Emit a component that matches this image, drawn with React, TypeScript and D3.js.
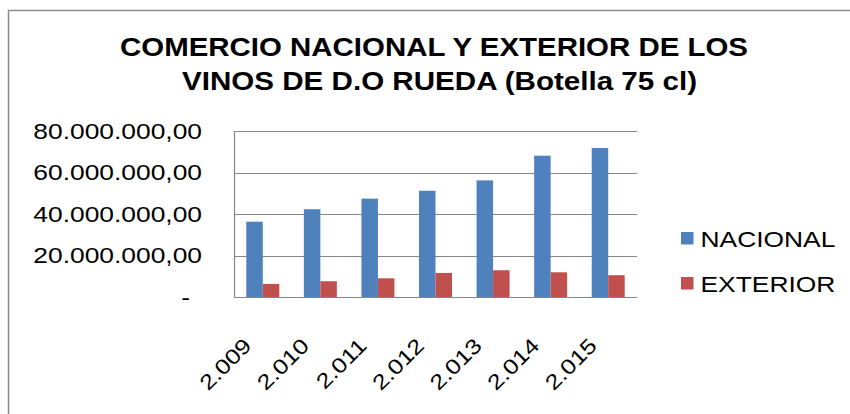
import * as d3 from 'd3';

const years = [2009, 2010, 2011, 2012, 2013, 2014, 2015];
const nacional = [36300000, 42300000, 47400000, 51200000, 56200000, 68100000, 71800000];
const exterior = [6300000, 7600000, 9000000, 11600000, 12900000, 11900000, 10500000];
const seriesNames = ['NACIONAL', 'EXTERIOR'];
const seriesColors = ['#4F81BD', '#C0504D'];
const yTicks = [0, 20000000, 40000000, 60000000, 80000000];
const titleLines = ['COMERCIO NACIONAL Y EXTERIOR DE LOS', 'VINOS DE D.O RUEDA (Botella 75 cl)'];

const locale = d3.formatLocale({ decimal: ',', thousands: '.', grouping: [3], currency: ['', '€'] });
const fmtValue = locale.format(',.2f');
const fmtYear = locale.format(',d');

const font = '"Liberation Sans", Arial, sans-serif';

export default function App() {
  const width = 850;
  const height = 414;
  const plot = { left: 234, right: 637, top: 131, bottom: 297 };

  const x0 = d3.scaleBand<number>().domain(years).range([plot.left, plot.right]);
  const x1 = d3.scaleBand<string>()
    .domain(seriesNames)
    .range([0, x0.bandwidth()])
    .paddingOuter(0.745);
  const y = d3.scaleLinear().domain([0, 80000000]).range([plot.bottom, plot.top]);

  const values = [nacional, exterior];

  return (
    <svg
      width={width}
      height={height}
      style={{ position: 'absolute', left: 0, top: 0, background: '#fff' }}
      fontFamily={font}
    >
      {/* chart frame, runs off the page at right and bottom */}
      <rect x={8.5} y={10.5} width={900} height={500} fill="#fff" stroke="#8a8a8a" strokeWidth={1.5} />

      {/* title */}
      {titleLines.map((t, i) => (
        <text
          key={t}
          x={i === 0 ? 120 : 182}
          y={i === 0 ? 56 : 90}
          fontSize={26}
          fontWeight="bold"
          textLength={i === 0 ? 628 : 515}
          lengthAdjust="spacingAndGlyphs"
          fill="#000"
        >
          {t}
        </text>
      ))}

      {/* gridlines */}
      {yTicks.map((t) => (
        <line key={t} x1={plot.left} x2={plot.right} y1={Math.round(y(t)) + 0.5} y2={Math.round(y(t)) + 0.5}
          stroke="#868686" strokeWidth={1.2} />
      ))}
      <line x1={plot.left + 0.5} x2={plot.left + 0.5} y1={plot.top} y2={plot.bottom + 1} stroke="#868686" strokeWidth={1.2} />

      {/* y labels */}
      {yTicks.map((t) => (
        <text
          key={t}
          transform={`translate(${t === 0 ? 190 : 202},${y(t) + 7.5}) scale(1.2,1)`}
          textAnchor="end"
          fontSize={22}
          fill="#000"
        >
          {t === 0 ? '-' : fmtValue(t)}
        </text>
      ))}

      {/* bars */}
      {years.map((yr, i) => (
        <g key={yr} transform={`translate(${x0(yr)},0)`}>
          {seriesNames.map((s, j) => (
            <rect
              key={s}
              x={x1(s)}
              y={y(values[j][i])}
              width={x1.bandwidth()}
              height={y(0) - y(values[j][i])}
              fill={seriesColors[j]}
            />
          ))}
        </g>
      ))}

      {/* x labels */}
      {years.map((yr) => (
        <text
          key={yr}
          transform={`translate(${(x0(yr) ?? 0) + x0.bandwidth() / 2 - 10},347) rotate(-45) scale(1.2,1)`}
          textAnchor="end"
          fontSize={21}
          fill="#000"
        >
          {fmtYear(yr)}
        </text>
      ))}

      {/* legend */}
      {seriesNames.map((s, j) => (
        <g key={s} transform={`translate(681,${232 + j * 45})`}>
          <rect x={0} y={0} width={12.5} height={12.5} fill={seriesColors[j]} />
          <text transform="translate(19.5,14.5) scale(1.2,1)" fontSize={22} fill="#000">{s}</text>
        </g>
      ))}
    </svg>
  );
}
